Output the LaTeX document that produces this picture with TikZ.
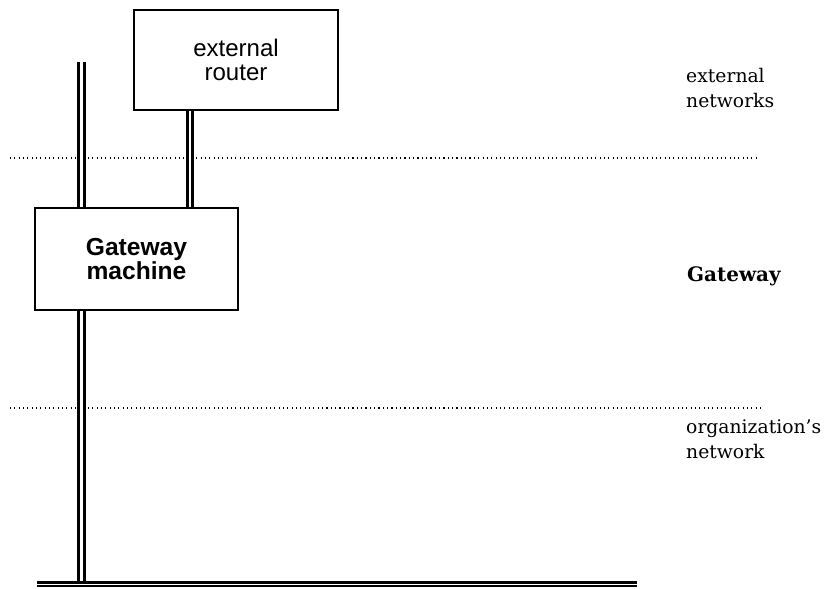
\documentclass[tikz,border=0pt]{standalone}
\usepackage{fontspec}
\setmainfont{DejaVu Serif}
\newfontfamily\boxfont{Liberation Sans}
\usetikzlibrary{positioning}

\begin{document}
\begin{tikzpicture}[x=0.03cm,y=-0.03cm,
  box/.style={draw,line width=2pt,fill=white,inner sep=0pt,align=center},
  wire/.style={double,line width=2.5pt,double distance=2.4pt},
  sep/.style={line width=1pt,dash pattern=on 0.9pt off 2.8pt},
  zone/.style={anchor=base west,align=left,inner sep=0pt,font=\fontsize{16}{21}\selectfont}]
\useasboundingbox (0,0) rectangle (834,589);
% separators between the zones
\draw[sep] (10,158) -- (758,158);
\draw[sep] (10,408) -- (760,408);
% organization's network cable
\coordinate (lantop) at (81.5,62);
\coordinate (lanbot) at (81.5,584);
\coordinate (barl) at (37,584);
\coordinate (barr) at (637,584);
\draw[wire] (lantop) -- (lanbot);
\draw[double,line width=2.2pt,double distance=0.5pt] (barl) -- (barr);
% machines
\node[box,minimum width=6.12cm,minimum height=3cm,font=\boxfont\fontsize{20.5}{21}\selectfont] (router) at (236,60) {external\\router};
\node[box,minimum width=6.09cm,minimum height=3.06cm,font=\boxfont\bfseries\fontsize{21}{16}\selectfont] (gw) at (136.5,259) {Gateway\\machine};
\coordinate (leg) at (190,0);
\draw[wire] (router.south -| leg) -- (gw.north -| leg);
% zone labels
\node[zone] (ext) at (686,107) {external\\networks};
\node[zone,font=\fontsize{17}{21}\selectfont\bfseries] (gwz) at (687,281) {Gateway};
\node[zone] (org) at (686,458) {organization’s\\network};
\end{tikzpicture}
\end{document}
